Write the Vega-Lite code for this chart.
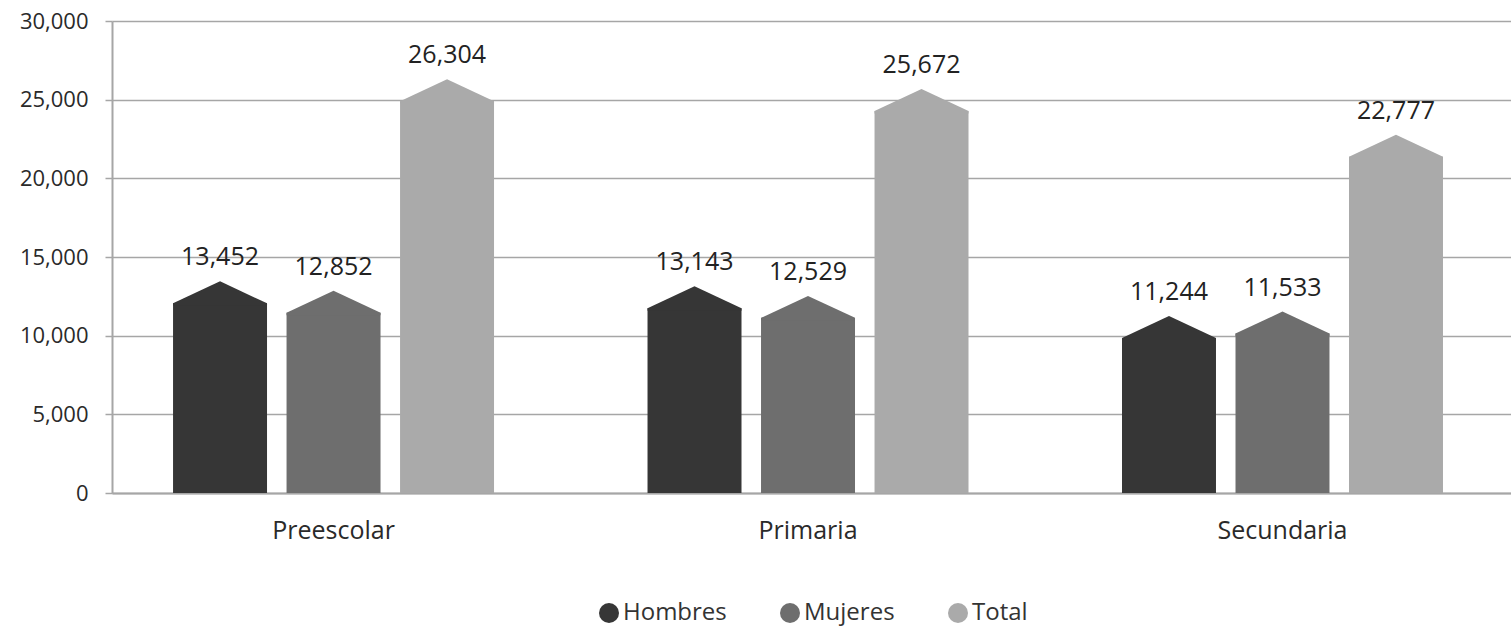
{
  "$schema": "https://vega.github.io/schema/vega-lite/v6.json",
  "width": 1399,
  "height": 472,
  "autosize": {"type": "none"},
  "padding": {"left": 112, "top": 21, "right": 0, "bottom": 138},
  "background": "white",
  "config": {
    "view": {"stroke": null},
    "font": "Open Sans",
    "axis": {"labelFont": "Open Sans", "labelColor": "#2a2a2a"},
    "legend": {"labelFont": "Open Sans"}
  },
  "data": {
    "values": [
      {"nivel": "Preescolar", "serie": "Hombres", "valor": 13452},
      {"nivel": "Preescolar", "serie": "Mujeres", "valor": 12852},
      {"nivel": "Preescolar", "serie": "Total", "valor": 26304},
      {"nivel": "Primaria", "serie": "Hombres", "valor": 13143},
      {"nivel": "Primaria", "serie": "Mujeres", "valor": 12529},
      {"nivel": "Primaria", "serie": "Total", "valor": 25672},
      {"nivel": "Secundaria", "serie": "Hombres", "valor": 11244},
      {"nivel": "Secundaria", "serie": "Mujeres", "valor": 11533},
      {"nivel": "Secundaria", "serie": "Total", "valor": 22777}
    ]
  },
  "encoding": {
    "x": {
      "field": "nivel", "type": "nominal", "sort": null, "title": null,
      "scale": {"paddingInner": 0.3235, "paddingOuter": 0.136, "align": 0.473},
      "axis": {"labelAngle": 0, "labelFontSize": 25, "labelPadding": 25, "ticks": false, "domainColor": "#a6a6a6", "domainWidth": 2}
    },
    "xOffset": {
      "field": "serie", "type": "nominal", "sort": null,
      "scale": {"paddingInner": 0.172, "paddingOuter": 0}
    },
    "y": {
      "field": "valor", "type": "quantitative", "title": null, "stack": null,
      "scale": {"domain": [0, 30000], "nice": false},
      "axis": {"values": [0, 5000, 10000, 15000, 20000, 25000, 30000], "format": ",.0f", "labelFontSize": 22, "labelPadding": 17, "tickSize": 7, "tickColor": "#a6a6a6", "tickWidth": 1.5, "gridColor": "#a6a6a6", "gridWidth": 1.5, "domainColor": "#a6a6a6", "domainWidth": 2, "gridOpacity": 1}
    },
    "color": {
      "field": "serie", "type": "nominal", "sort": null,
      "scale": {"domain": ["Hombres", "Mujeres", "Total"], "range": ["#363636", "#6e6e6e", "#aaaaaa"]},
      "legend": {"title": null, "orient": "none", "direction": "horizontal", "legendX": 485, "legendY": 580, "symbolType": "circle", "symbolSize": 400, "symbolStrokeWidth": 0, "labelFontSize": 24, "labelColor": "#333333", "labelOffset": 2, "columnPadding": 51}
    }
  },
  "layer": [
    {"mark": {"type": "bar", "yOffset": 22, "y2Offset": 0},
     "encoding": {"y2": {"datum": 0}}},
    {"mark": {"type": "point", "filled": true, "opacity": 1, "size": 8836, "strokeWidth": 0, "shape": "M0,0L1,0.468L1,0.52L-1,0.52L-1,0.468Z"}},
    {"mark": {"type": "text", "fontSize": 25, "dy": -16, "baseline": "alphabetic", "color": "#222222"},
     "encoding": {"text": {"field": "valor", "type": "quantitative", "format": ","}, "color": {"value": "#222222"}}}
  ]
}
